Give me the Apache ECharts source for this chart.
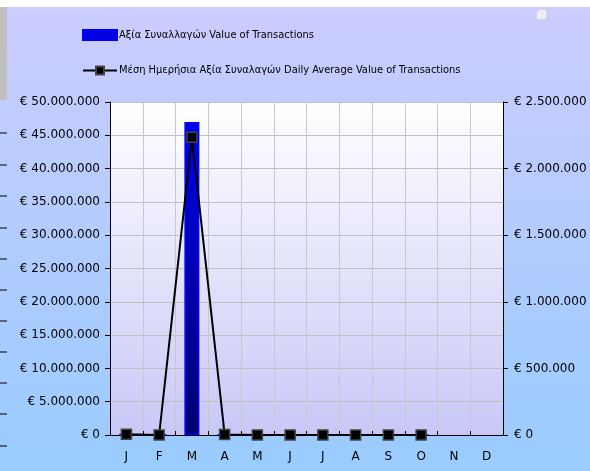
<!DOCTYPE html>
<html><head><meta charset="utf-8">
<script src="https://cdn.jsdelivr.net/npm/echarts@6/dist/echarts.min.js"></script>
<style>html,body{margin:0;padding:0;background:#fff}#c{width:590px;height:471px}</style>
</head><body><div id="c"></div>
<script>
const categories = ['J','F','M','A','M','J','J','A','S','O','N','D'];
const valueOfTransactions = [120000, 0, 47000000, 100000, 0, 0, 0, 0, 0, 0, null, null];
const dailyAverage = [5000, 0, 2235000, 4000, 0, 0, 0, 0, 0, 0, null, null];
const seriesNames = ['Αξία Συναλλαγών Value of Transactions', 'Μέση Ημερήσια Αξία Συναλαγών Daily Average Value of Transactions'];
const leftTicks = {min: 0, max: 50000000, interval: 5000000};
const rightTicks = {min: 0, max: 2500000, interval: 500000};

function euro(v){ return '€ ' + String(Math.round(v)).replace(/\B(?=(\d{3})+(?!\d))/g, '.'); }
const FONT = 'DejaVu Sans';
const chart = echarts.init(document.getElementById('c'), null, {renderer:'canvas'});
const deco = [];
deco.push({type:'rect', shape:{x:0,y:7,width:590,height:464}, z:-10, style:{fill:new echarts.graphic.LinearGradient(0,0,0,1,[{offset:0,color:'#CCCCFF'},{offset:1,color:'#99CCFF'}])}});
deco.push({type:'rect', shape:{x:0,y:7,width:7,height:93}, z:-9, style:{fill:'#C0C0C0'}});
[133,165,196,228,259,290,321,352,383,414,446].forEach(y=>deco.push({type:'line', shape:{x1:0,y1:y,x2:7,y2:y}, z:-8, style:{stroke:'#000',lineWidth:1}}));
deco.push({type:'rect', shape:{x:537,y:10,width:9,height:9, r:[4,0,0,0]}, z:-8, style:{fill:'#EEEEF2'}});

chart.setOption({
  animation:false,
  textStyle:{fontFamily:FONT},
  graphic: deco,
  legend:{
    orient:'vertical', left:82, top:29, padding:0, itemGap:24, itemWidth:34, itemHeight:10,
    textStyle:{fontFamily:'DejaVu Sans Condensed', fontSize:11, color:'#000', padding:[0,0,0,-3]},
    data:[
      {name:seriesNames[0], icon:'rect', itemStyle:{color:'#0000E0'}},
      {name:seriesNames[1]}
    ]
  },
  grid:{left:110, right:87, top:102, bottom:36, show:true, borderWidth:0,
    backgroundColor:new echarts.graphic.LinearGradient(0,0,0,1,[{offset:0,color:'#FFFFFF'},{offset:1,color:'#C8C8F8'}])},
  xAxis:{type:'category', data:categories, boundaryGap:true,
    axisLine:{lineStyle:{color:'#000'}},
    axisTick:{show:true, inside:true, length:4, lineStyle:{color:'#000'}},
    axisLabel:{fontFamily:FONT, fontSize:12, color:'#000', margin:16},
    splitLine:{show:true, interval:0, lineStyle:{color:'#C8C8C8'}}
  },
  yAxis:[
    {type:'value', min:leftTicks.min, max:leftTicks.max, interval:leftTicks.interval, position:'left',
      axisLine:{show:true, lineStyle:{color:'#000'}},
      axisTick:{show:true, length:5, lineStyle:{color:'#000'}},
      axisLabel:{fontFamily:FONT, fontSize:12, color:'#000', margin:10, formatter:euro},
      splitLine:{show:true, lineStyle:{color:'#C0C0C0'}}},
    {type:'value', min:rightTicks.min, max:rightTicks.max, interval:rightTicks.interval, position:'right',
      axisLine:{show:true, lineStyle:{color:'#000'}},
      axisTick:{show:true, length:5, lineStyle:{color:'#000'}},
      axisLabel:{fontFamily:FONT, fontSize:12, color:'#000', margin:11, formatter:euro},
      splitLine:{show:false}}
  ],
  series:[
    {name:seriesNames[0], type:'bar', yAxisIndex:0, data:valueOfTransactions, barWidth:15,
      itemStyle:{color:new echarts.graphic.LinearGradient(0,0,0,1,[{offset:0,color:'#0000F0'},{offset:1,color:'#000070'}]), borderColor:'#0000FF', borderWidth:1.5}},
    {name:seriesNames[1], type:'line', yAxisIndex:1, data:dailyAverage, symbol:'rect', symbolSize:10,
      lineStyle:{color:'#000', width:2}, itemStyle:{color:'#000', borderColor:'#444', borderWidth:1.5}}
  ]
});
</script></body></html>
